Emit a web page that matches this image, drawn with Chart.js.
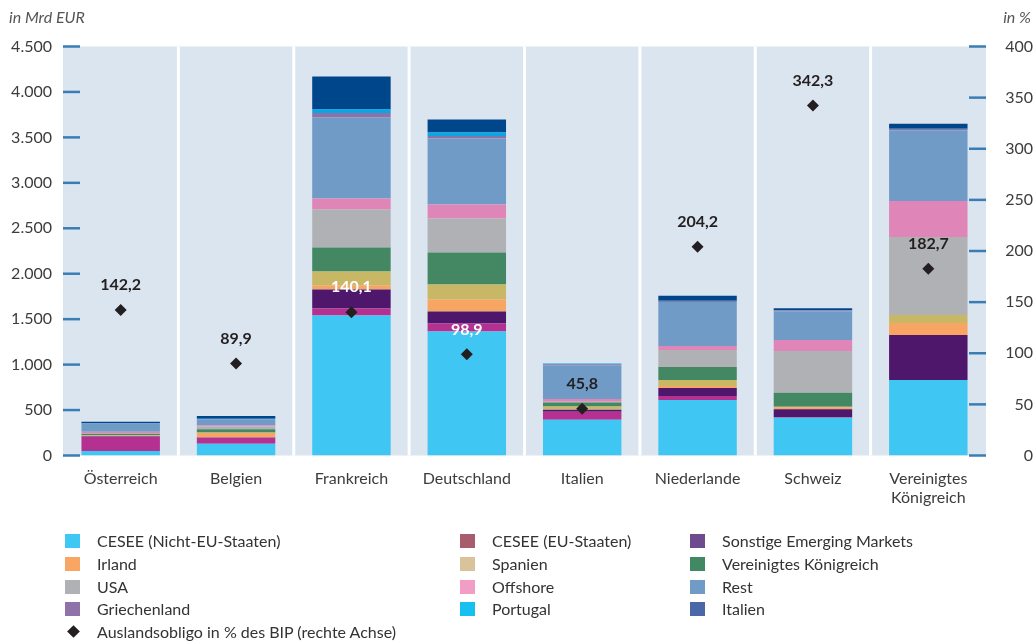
<!DOCTYPE html>
<html>
<head>
<meta charset="utf-8">
<script src="https://cdn.jsdelivr.net/npm/chart.js@4/dist/chart.umd.min.js"></script>
<style>
  body { margin: 0; background: #fff; font-family: Lato, sans-serif; }
  #wrap { position: relative; width: 1033px; height: 641px; }
  #legend { position: absolute; left: 0; top: 530px; width: 1033px; font-size: 16px; color: #333; }
  .item { position: absolute; white-space: nowrap; line-height: 22px; }
  .sw { position: absolute; left: 0; top: 4px; width: 15px; height: 14px; }
  .item span.t { position: absolute; left: 32px; top: 0; }
  .dia { position: absolute; left: 2px; top: 6px; width: 9px; height: 9px; background: #231f20; transform: rotate(45deg); }
</style>
</head>
<body>
<div id="wrap">
  <canvas id="chart"></canvas>
  <div id="legend"></div>
</div>
<script>
/**
 *  Chart data
 */
var countries = ['Österreich', 'Belgien', 'Frankreich', 'Deutschland', 'Italien', 'Niederlande', 'Schweiz', ['Vereinigtes', 'Königreich']];

var cesseNonEu  = [50, 130, 1540, 1364, 392, 612, 414, 832];
var cesseEu     = [155, 65, 77, 88, 88, 44, 8, 0];
var otherEm     = [8, 3, 209, 132, 22, 88, 88, 495];
var ireland     = [3, 50, 44, 132, 5, 22, 22, 132];
var spain       = [8, 5, 154, 165, 33, 66, 5, 88];
var uk          = [12, 35, 264, 352, 44, 143, 154, 0];
var usa         = [12, 30, 418, 374, 8, 187, 458, 858];
var offshore    = [12, 15, 121, 154, 30, 44, 121, 396];
var rest        = [88, 65, 891, 726, 372, 484, 315, 774];
var greece      = [3, 3, 51, 29, 10, 11, 11, 18];
var portugal    = [3, 3, 37, 37, 8, 3, 3, 3];
var italy       = [18, 30, 363, 143, 0, 55, 22, 55];

var obligoPct   = [142.2, 89.9, 140.1, 98.9, 45.8, 204.2, 342.3, 182.7];
var obligoLabelColors = ['#231f20', '#231f20', '#ffffff', '#ffffff', '#231f20', '#231f20', '#231f20', '#231f20'];

var leftTicks = [0, 500, 1000, 1500, 2000, 2500, 3000, 3500, 4000, 4500];
var rightTicks = [0, 50, 100, 150, 200, 250, 300, 350, 400];

var seriesNames = ['CESEE (Nicht-EU-Staaten)', 'CESEE (EU-Staaten)', 'Sonstige Emerging Markets', 'Irland', 'Spanien',
    'Vereinigtes Königreich', 'USA', 'Offshore', 'Rest', 'Griechenland', 'Portugal', 'Italien'];
var seriesData = [cesseNonEu, cesseEu, otherEm, ireland, spain, uk, usa, offshore, rest, greece, portugal, italy];
var barColors = ['#40c6f3', '#b53191', '#4e176b', '#f8a462', '#c8b865', '#438862', '#b0b1b4', '#df85b7', '#6f9bc6', '#8b72a9', '#05a8e6', '#00468b'];
var legendColors = ['#40c8f4', '#a85d6e', '#6e4a8e', '#f9a665', '#d8c39b', '#438864', '#b0b1b4', '#f19dc4', '#6f9bc6', '#8e72a8', '#17c0ef', '#4a67a8'];
var obligoName = 'Auslandsobligo in % des BIP (rechte Achse)';

function fmtThousands(v)
{
    return String(v).replace(/\B(?=(\d{3})+(?!\d))/g, '.');
}

/**
 *  Plot background, white category separators, inner tick marks
 */
var backgroundPlugin = {
    id: 'plotBackground',
    beforeDatasetsDraw: function (chart) {
        var ctx = chart.ctx;
        var area = chart.chartArea;
        ctx.save();
        ctx.fillStyle = '#dbe5f0';
        ctx.fillRect(area.left, area.top, area.right - area.left, area.bottom - area.top);

        var n = countries.length;
        var w = (area.right - area.left) / n;
        ctx.strokeStyle = '#ffffff';
        ctx.lineWidth = 3;
        for (var i = 1; i < n; i++) {
            var x = area.left + i * w;
            ctx.beginPath();
            ctx.moveTo(x, area.top);
            ctx.lineTo(x, area.bottom);
            ctx.stroke();
        }

        ctx.strokeStyle = '#3a7db5';
        ctx.lineWidth = 2.5;
        chart.scales.y.ticks.forEach(function (t) {
            var y = chart.scales.y.getPixelForValue(t.value);
            ctx.beginPath();
            ctx.moveTo(area.left, y);
            ctx.lineTo(area.left + 17, y);
            ctx.stroke();
        });
        chart.scales.y1.ticks.forEach(function (t) {
            var y = chart.scales.y1.getPixelForValue(t.value);
            ctx.beginPath();
            ctx.moveTo(area.right - 17, y);
            ctx.lineTo(area.right, y);
            ctx.stroke();
        });
        ctx.restore();
    },
    afterDraw: function (chart) {
        var ctx = chart.ctx;
        ctx.save();
        ctx.font = 'italic 16px Lato';
        ctx.fillStyle = '#555';
        ctx.textBaseline = 'middle';
        ctx.textAlign = 'left';
        ctx.fillText('in Mrd EUR', 9, 18);
        ctx.textAlign = 'right';
        ctx.fillText('in %', 1031, 18);
        ctx.restore();
    }
};

/**
 *  Value labels above the diamonds
 */
var valueLabelPlugin = {
    id: 'valueLabels',
    afterDatasetsDraw: function (chart) {
        var idx = chart.data.datasets.length - 1;
        var meta = chart.getDatasetMeta(idx);
        var ctx = chart.ctx;
        ctx.save();
        ctx.font = 'bold 16px Lato';
        ctx.textAlign = 'center';
        ctx.textBaseline = 'middle';
        meta.data.forEach(function (pt, i) {
            ctx.fillStyle = obligoLabelColors[i];
            ctx.fillText(obligoPct[i].toFixed(1).replace('.', ','), pt.x, pt.y - 25);
        });
        ctx.restore();
    }
};

var datasets = seriesNames.map(function (name, i) {
    return {
        type: 'bar',
        label: name,
        data: seriesData[i],
        backgroundColor: barColors[i],
        borderWidth: 0,
        yAxisID: 'y',
        order: 2
    };
});
datasets.push({
    type: 'line',
    label: obligoName,
    data: obligoPct,
    yAxisID: 'y1',
    showLine: false,
    pointStyle: 'rectRot',
    pointRadius: 6,
    pointBorderWidth: 0,
    backgroundColor: '#231f20',
    borderColor: '#231f20',
    order: 0
});

var ctx = document.getElementById('chart').getContext('2d');
var myChart = new Chart(ctx, {
    type: 'bar',
    data: {
        labels: countries,
        datasets: datasets
    },
    plugins: [backgroundPlugin, valueLabelPlugin],
    options: {
        responsive: true,
        maintainAspectRatio: false,
        animation: false,
        layout: {
            padding: { top: 46.5, bottom: 125.5, left: 0, right: 0 }
        },
        datasets: {
            bar: { categoryPercentage: 1, barPercentage: 0.68 }
        },
        plugins: {
            legend: { display: false },
            tooltip: { enabled: false }
        },
        scales: {
            x: {
                stacked: true,
                grid: { display: false, drawTicks: false },
                border: { display: false },
                ticks: {
                    padding: 14,
                    color: '#3c3c3c',
                    font: { family: 'Lato', size: 16 },
                    maxRotation: 0,
                    autoSkip: false
                },
                afterFit: function (scale) { scale.height = 60; }
            },
            y: {
                stacked: true,
                position: 'left',
                min: 0,
                max: 4500,
                afterBuildTicks: function (scale) {
                    scale.ticks = leftTicks.map(function (v) { return { value: v }; });
                },
                grid: { display: false, drawTicks: false },
                border: { display: false },
                ticks: {
                    padding: 11,
                    color: '#3c3c3c',
                    font: { family: 'Lato', size: 16 },
                    callback: function (value) { return fmtThousands(value); }
                },
                afterFit: function (scale) { scale.width = 63; }
            },
            y1: {
                position: 'right',
                min: 0,
                max: 400,
                afterBuildTicks: function (scale) {
                    scale.ticks = rightTicks.map(function (v) { return { value: v }; });
                },
                grid: { display: false, drawTicks: false },
                border: { display: false },
                ticks: {
                    padding: 18,
                    crossAlign: 'far',
                    color: '#3c3c3c',
                    font: { family: 'Lato', size: 16 }
                },
                afterFit: function (scale) { scale.width = 47; }
            }
        }
    }
});

/**
 *  HTML legend in three columns
 */
var legendCols = [65, 460, 690];
var legendRows = [530, 553, 576, 598];
var legendOrder = [0, 3, 6, 9, 1, 4, 7, 10, 2, 5, 8, 11];
var legendDiv = document.getElementById('legend');
legendOrder.forEach(function (s, k) {
    var col = Math.floor(k / 4);
    var row = k % 4;
    var el = document.createElement('div');
    el.className = 'item';
    el.style.left = legendCols[col] + 'px';
    el.style.top = (legendRows[row] - 530) + 'px';
    el.innerHTML = '<div class="sw" style="background:' + legendColors[s] + '"></div><span class="t">' + seriesNames[s] + '</span>';
    legendDiv.appendChild(el);
});
var dia = document.createElement('div');
dia.className = 'item';
dia.style.left = '67px';
dia.style.top = '91px';
dia.innerHTML = '<div class="dia"></div><span class="t" style="left:30px">' + obligoName + '</span>';
legendDiv.appendChild(dia);
</script>
</body>
</html>
